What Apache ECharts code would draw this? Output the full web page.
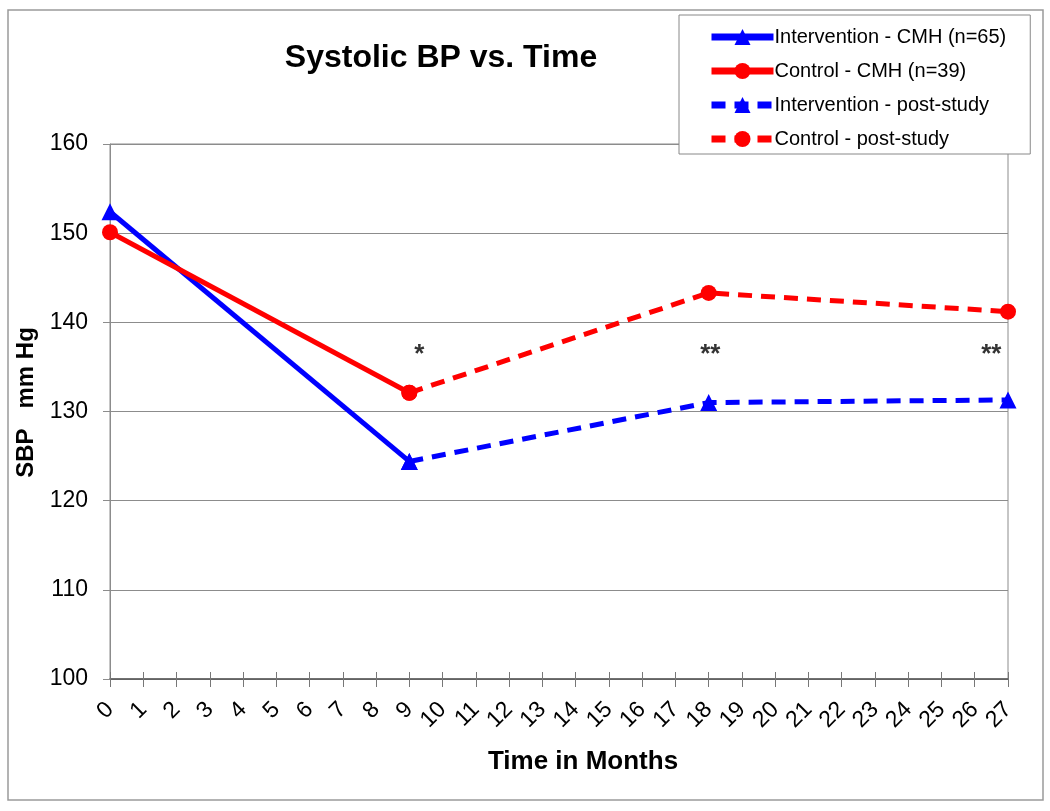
<!DOCTYPE html>
<html>
<head>
<meta charset="utf-8">
<script src="https://cdn.jsdelivr.net/npm/echarts@6/dist/echarts.min.js"></script>
<style>
  html, body { margin: 0; padding: 0; background: #fff; }
  #chart { width: 1050px; height: 811px; }
</style>
</head>
<body>
<div id="chart"></div>
<script>
// months and values
var months = [0, 9, 18, 27];
var interventionCMH = [152.4, 124.4];
var controlCMH = [150.1, 132.1];
var interventionPost = [124.4, 131.0, 131.3];
var controlPost = [132.1, 143.3, 141.2];
// significance marks (placed like text boxes in the original)
var starMonths = [9.3, 18.05, 26.5];
var starLabels = ['*', '**', '**'];
var starLevel = 136.4;

var BLUE = '#0000ff';
var RED = '#ff0000';
var FONT = 'Liberation Sans, Arial';

function pair(xs, ys) {
  return ys.map(function (v, i) { return [xs[i], v]; });
}

var chart = echarts.init(document.getElementById('chart'), null, { renderer: 'canvas' });

var option = {
  backgroundColor: '#ffffff',
  animation: false,
  // thin frame round the whole chart
  graphic: [{
    type: 'rect',
    shape: { x: 8, y: 10, width: 1035, height: 790 },
    style: { fill: 'none', stroke: '#9a9a9a', lineWidth: 1.5 },
    silent: true,
    z: -1
  }],
  title: {
    text: 'Systolic BP vs. Time',
    left: 436,
    top: 37,
    textAlign: 'center',
    textStyle: { fontFamily: FONT, fontSize: 32, fontWeight: 'bold', color: '#000' }
  },
  legend: {
    orient: 'vertical',
    left: 679,
    top: 15,
    data: ['Intervention - CMH (n=65)', 'Control - CMH (n=39)', 'Intervention - post-study', 'Control - post-study'],
    backgroundColor: '#fff',
    borderColor: '#888',
    borderWidth: 1,
    padding: [12, 24, 5, 29],
    itemWidth: 62,
    itemHeight: 20,
    itemGap: 14,
    lineStyle: { width: 7 },
    textStyle: { fontFamily: FONT, fontSize: 20, color: '#000', padding: [0, 0, 0, -4] }
  },
  grid: {
    left: 110, right: 42, top: 144, bottom: 132,
    show: true, borderColor: '#8c8c8c', borderWidth: 1
  },
  xAxis: [
    {
      type: 'value',
      min: 0, max: 27, interval: 1,
      name: 'Time in Months',
      nameLocation: 'middle',
      nameGap: 70,
      nameTextStyle: { fontFamily: FONT, fontSize: 26, fontWeight: 'bold', color: '#000', padding: [0, 0, 0, 48] },
      axisLine: { lineStyle: { color: '#555', width: 1.5 } },
      axisTick: { length: 8, lineStyle: { color: '#777' } },
      axisLabel: {
        rotate: 45, margin: 27, fontFamily: FONT, fontSize: 23, color: '#000',
        showMinLabel: true, showMaxLabel: true, hideOverlap: false
      },
      splitLine: { show: false }
    },
    {
      // inner half of the crossing ticks
      type: 'value',
      position: 'bottom',
      min: 0, max: 27, interval: 1,
      axisLine: { show: false },
      axisTick: { inside: true, length: 7, lineStyle: { color: '#777' } },
      axisLabel: { show: false },
      splitLine: { show: false }
    }
  ],
  yAxis: {
    type: 'value',
    min: 100, max: 160, interval: 10,
    name: 'SBP   mm Hg',
    nameLocation: 'middle',
    nameGap: 62,
    nameTextStyle: { fontFamily: FONT, fontSize: 24, fontWeight: 'bold', color: '#000', padding: [0, 0, 0, 18] },
    axisLine: { show: true, lineStyle: { color: '#8c8c8c' } },
    axisTick: { show: true, length: 7, lineStyle: { color: '#8c8c8c' } },
    axisLabel: { margin: 22, fontFamily: FONT, fontSize: 23, color: '#000' },
    splitLine: { lineStyle: { color: '#8c8c8c', width: 1 } }
  },
  series: [
    {
      name: 'Intervention - CMH (n=65)',
      type: 'line',
      data: pair(months, interventionCMH),
      symbol: 'triangle', symbolSize: 17,
      lineStyle: { color: BLUE, width: 5 },
      itemStyle: { color: BLUE },
      z: 3
    },
    {
      name: 'Control - CMH (n=39)',
      type: 'line',
      data: pair(months, controlCMH),
      symbol: 'circle', symbolSize: 16,
      lineStyle: { color: RED, width: 5 },
      itemStyle: { color: RED },
      z: 3
    },
    {
      name: 'Intervention - post-study',
      type: 'line',
      data: pair(months.slice(1), interventionPost),
      symbol: 'triangle', symbolSize: 17,
      lineStyle: { color: BLUE, width: 5, type: [14, 9] },
      itemStyle: { color: BLUE },
      z: 2
    },
    {
      name: 'Control - post-study',
      type: 'line',
      data: pair(months.slice(1), controlPost),
      symbol: 'circle', symbolSize: 16,
      lineStyle: { color: RED, width: 5, type: [14, 9] },
      itemStyle: { color: RED },
      z: 2
    },
    {
      name: 'stars',
      type: 'scatter',
      data: starMonths.map(function (m, i) { return { value: [m, starLevel], label: { formatter: starLabels[i] } }; }),
      symbolSize: 0,
      silent: true,
      label: {
        show: true, position: 'inside',
        fontFamily: FONT, fontSize: 26, fontWeight: 'bold', color: '#000'
      }
    }
  ]
};

chart.setOption(option);
</script>
</body>
</html>
